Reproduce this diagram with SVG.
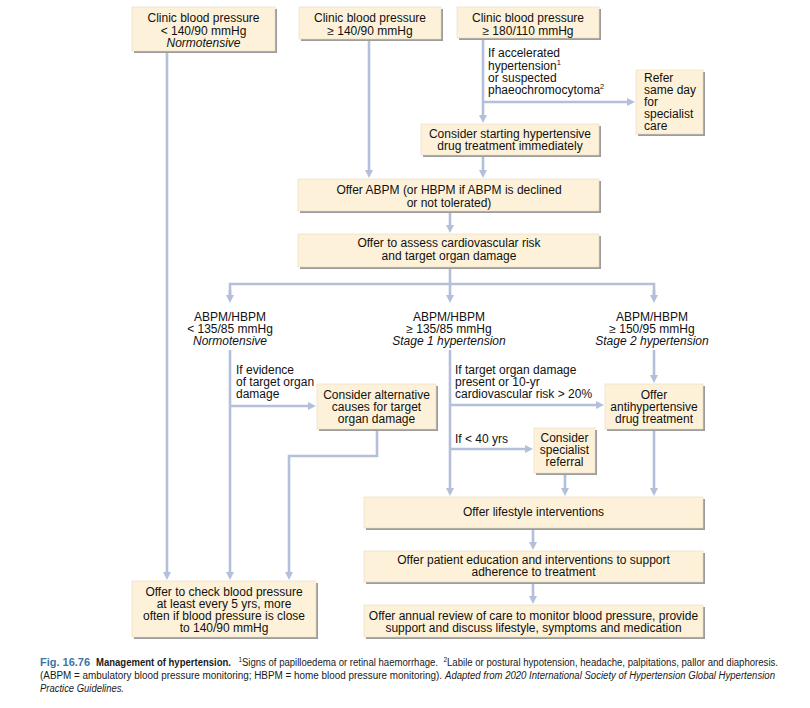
<svg xmlns="http://www.w3.org/2000/svg" width="810" height="708" viewBox="0 0 810 708">
<defs>
<style>
.bx{fill:#fdf2d9;stroke:#e6d9bc;stroke-width:0.6}
.sh{fill:#9c9c9c}
.t{font-family:"Liberation Sans",Arial,sans-serif;font-size:12px;fill:#111}
.c{text-anchor:middle}
.i{font-style:italic}
.ln{fill:none;stroke:#b4c0da;stroke-width:2.6}
.cap{font-family:"Liberation Sans",Arial,sans-serif;font-size:10px;fill:#1a1a1a}
.capb{font-weight:bold}
.fig{font-weight:bold;fill:#3b74a6}
.sup{font-size:6.5px}
</style>
<marker id="ah" markerUnits="userSpaceOnUse" markerWidth="10" markerHeight="10" refX="2" refY="4" orient="auto">
<path d="M0,0 L8,4 L0,8 z" fill="#b4c0da"/>
</marker>
</defs>
<rect width="810" height="708" fill="#fff"/>

<g id="connectors">
<path class="ln" d="M167,51 V574" marker-end="url(#ah)"/>
<path class="ln" d="M369,39 V172" marker-end="url(#ah)"/>
<path class="ln" d="M483,38 V117" marker-end="url(#ah)"/>
<path class="ln" d="M483,102 H629" marker-end="url(#ah)"/>
<path class="ln" d="M483,155 V172" marker-end="url(#ah)"/>
<path class="ln" d="M450,211 V227" marker-end="url(#ah)"/>
<path class="ln" d="M450,267 V284"/>
<path class="ln" d="M230,297 V284 H654 V297"/>
<path class="ln" d="M230,290 V297" marker-end="url(#ah)"/>
<path class="ln" d="M450,284 V297" marker-end="url(#ah)"/>
<path class="ln" d="M654,290 V297" marker-end="url(#ah)"/>
<path class="ln" d="M230,350 V574" marker-end="url(#ah)"/>
<path class="ln" d="M230,406 H310" marker-end="url(#ah)"/>
<path class="ln" d="M377,429 V456 H289 V574" marker-end="url(#ah)"/>
<path class="ln" d="M450,350 V490" marker-end="url(#ah)"/>
<path class="ln" d="M450,405 H598" marker-end="url(#ah)"/>
<path class="ln" d="M450,449 H527" marker-end="url(#ah)"/>
<path class="ln" d="M654,350 V377" marker-end="url(#ah)"/>
<path class="ln" d="M654,429 V490" marker-end="url(#ah)"/>
<path class="ln" d="M565,473 V490" marker-end="url(#ah)"/>
<path class="ln" d="M533,528 V544" marker-end="url(#ah)"/>
<path class="ln" d="M533,582 V598" marker-end="url(#ah)"/>
</g>

<g id="clinic-normal">
<rect class="sh" x="134" y="9" width="143" height="44"/>
<rect class="bx" x="132" y="7" width="143" height="44"/>
<text class="t c" x="203.5" y="22">Clinic blood pressure</text>
<text class="t c" x="203.5" y="34.5">&lt; 140/90 mmHg</text>
<text class="t c i" x="203.5" y="46.5">Normotensive</text>
</g>

<g id="clinic-140">
<rect class="sh" x="301" y="9" width="142" height="32"/>
<rect class="bx" x="299" y="7" width="142" height="32"/>
<text class="t c" x="370" y="22">Clinic blood pressure</text>
<text class="t c" x="370" y="34.5">≥ 140/90 mmHg</text>
</g>

<g id="clinic-180">
<rect class="sh" x="459" y="9" width="142" height="31"/>
<rect class="bx" x="457" y="7" width="142" height="31"/>
<text class="t c" x="528" y="22">Clinic blood pressure</text>
<text class="t c" x="528" y="34.5">≥ 180/110 mmHg</text>
</g>

<g id="label-accelerated">
<text class="t" x="488" y="57">If accelerated</text>
<text class="t" x="488" y="70">hypertension<tspan font-size="7.5" dy="-5">1</tspan></text>
<text class="t" x="488" y="82">or suspected</text>
<text class="t" x="488" y="94">phaeochromocytoma<tspan font-size="7.5" dy="-5">2</tspan></text>
</g>

<g id="refer">
<rect class="sh" x="638" y="72" width="67" height="64"/>
<rect class="bx" x="636" y="70" width="67" height="64"/>
<text class="t" x="644" y="82">Refer</text>
<text class="t" x="644" y="94">same day</text>
<text class="t" x="644" y="106">for</text>
<text class="t" x="644" y="118">specialist</text>
<text class="t" x="644" y="130">care</text>
</g>

<g id="consider-starting">
<rect class="sh" x="423" y="126" width="178" height="31"/>
<rect class="bx" x="421" y="124" width="178" height="31"/>
<text class="t c" x="510" y="137.5">Consider starting hypertensive</text>
<text class="t c" x="510" y="150">drug treatment immediately</text>
</g>

<g id="offer-abpm">
<rect class="sh" x="300" y="181" width="301" height="32"/>
<rect class="bx" x="298" y="179" width="301" height="32"/>
<text class="t c" x="449" y="194">Offer ABPM (or HBPM if ABPM is declined</text>
<text class="t c" x="449" y="207">or not tolerated)</text>
</g>

<g id="assess">
<rect class="sh" x="300" y="236" width="301" height="33"/>
<rect class="bx" x="298" y="234" width="301" height="33"/>
<text class="t c" x="449" y="247">Offer to assess cardiovascular risk</text>
<text class="t c" x="449" y="259.5">and target organ damage</text>
</g>

<g id="abpm-normal">
<text class="t c" x="230" y="321">ABPM/HBPM</text>
<text class="t c" x="230" y="333">&lt; 135/85 mmHg</text>
<text class="t c i" x="230" y="345">Normotensive</text>
</g>

<g id="abpm-stage1">
<text class="t c" x="449" y="321">ABPM/HBPM</text>
<text class="t c" x="449" y="333">≥ 135/85 mmHg</text>
<text class="t c i" x="449" y="345">Stage 1 hypertension</text>
</g>

<g id="abpm-stage2">
<text class="t c" x="652" y="321">ABPM/HBPM</text>
<text class="t c" x="652" y="333">≥ 150/95 mmHg</text>
<text class="t c i" x="652" y="345">Stage 2 hypertension</text>
</g>

<g id="label-evidence">
<text class="t" x="236" y="374">If evidence</text>
<text class="t" x="236" y="386">of target organ</text>
<text class="t" x="236" y="398">damage</text>
</g>

<g id="label-tod">
<text class="t" x="455" y="374">If target organ damage</text>
<text class="t" x="455" y="386">present or 10-yr</text>
<text class="t" x="455" y="398">cardiovascular risk &gt; 20%</text>
</g>

<g id="label-40">
<text class="t" x="455" y="443">If &lt; 40 yrs</text>
</g>

<g id="consider-alternative">
<rect class="sh" x="319" y="386" width="119" height="45"/>
<rect class="bx" x="317" y="384" width="119" height="45"/>
<text class="t c" x="376.5" y="399">Consider alternative</text>
<text class="t c" x="376.5" y="411">causes for target</text>
<text class="t c" x="376.5" y="423">organ damage</text>
</g>

<g id="antihypertensive">
<rect class="sh" x="607" y="386" width="98" height="45"/>
<rect class="bx" x="605" y="384" width="98" height="45"/>
<text class="t c" x="654" y="399">Offer</text>
<text class="t c" x="654" y="411">antihypertensive</text>
<text class="t c" x="654" y="423">drug treatment</text>
</g>

<g id="specialist-referral">
<rect class="sh" x="536" y="430" width="61" height="45"/>
<rect class="bx" x="534" y="428" width="61" height="45"/>
<text class="t c" x="564.5" y="442">Consider</text>
<text class="t c" x="564.5" y="454">specialist</text>
<text class="t c" x="564.5" y="466">referral</text>
</g>

<g id="lifestyle">
<rect class="sh" x="366" y="499" width="339" height="31"/>
<rect class="bx" x="364" y="497" width="339" height="31"/>
<text class="t c" x="533.5" y="516">Offer lifestyle interventions</text>
</g>

<g id="education">
<rect class="sh" x="366" y="553" width="339" height="31"/>
<rect class="bx" x="364" y="551" width="339" height="31"/>
<text class="t c" x="533.5" y="564">Offer patient education and interventions to support</text>
<text class="t c" x="533.5" y="576">adherence to treatment</text>
</g>

<g id="annual-review">
<rect class="sh" x="366" y="607" width="339" height="32"/>
<rect class="bx" x="364" y="605" width="339" height="32"/>
<text class="t c" x="533.5" y="619.5">Offer annual review of care to monitor blood pressure, provide</text>
<text class="t c" x="533.5" y="631.5">support and discuss lifestyle, symptoms and medication</text>
</g>

<g id="check-bp">
<rect class="sh" x="134" y="583" width="184" height="56"/>
<rect class="bx" x="132" y="581" width="184" height="56"/>
<text class="t c" x="224" y="596">Offer to check blood pressure</text>
<text class="t c" x="224" y="608">at least every 5 yrs, more</text>
<text class="t c" x="224" y="620">often if blood pressure is close</text>
<text class="t c" x="224" y="632">to 140/90 mmHg</text>
</g>

<g id="caption">
<text class="cap fig" x="40" y="666" textLength="50" lengthAdjust="spacingAndGlyphs">Fig. 16.76</text>
<text class="cap capb" x="96" y="666" textLength="135" lengthAdjust="spacingAndGlyphs">Management of hypertension.</text>
<text class="cap sup" x="238.5" y="662">1</text>
<text class="cap" x="242" y="666" textLength="196" lengthAdjust="spacingAndGlyphs">Signs of papilloedema or retinal haemorrhage.</text>
<text class="cap sup" x="443.5" y="662">2</text>
<text class="cap" x="447" y="666" textLength="331" lengthAdjust="spacingAndGlyphs">Labile or postural hypotension, headache, palpitations, pallor and diaphoresis.</text>
<text class="cap" x="40" y="679" textLength="402" lengthAdjust="spacingAndGlyphs">(ABPM = ambulatory blood pressure monitoring; HBPM = home blood pressure monitoring).</text>
<text class="cap i" x="445" y="679" textLength="330" lengthAdjust="spacingAndGlyphs">Adapted from 2020 International Society of Hypertension Global Hypertension</text>
<text class="cap i" x="40" y="692" textLength="84" lengthAdjust="spacingAndGlyphs">Practice Guidelines.</text>
</g>
</svg>
